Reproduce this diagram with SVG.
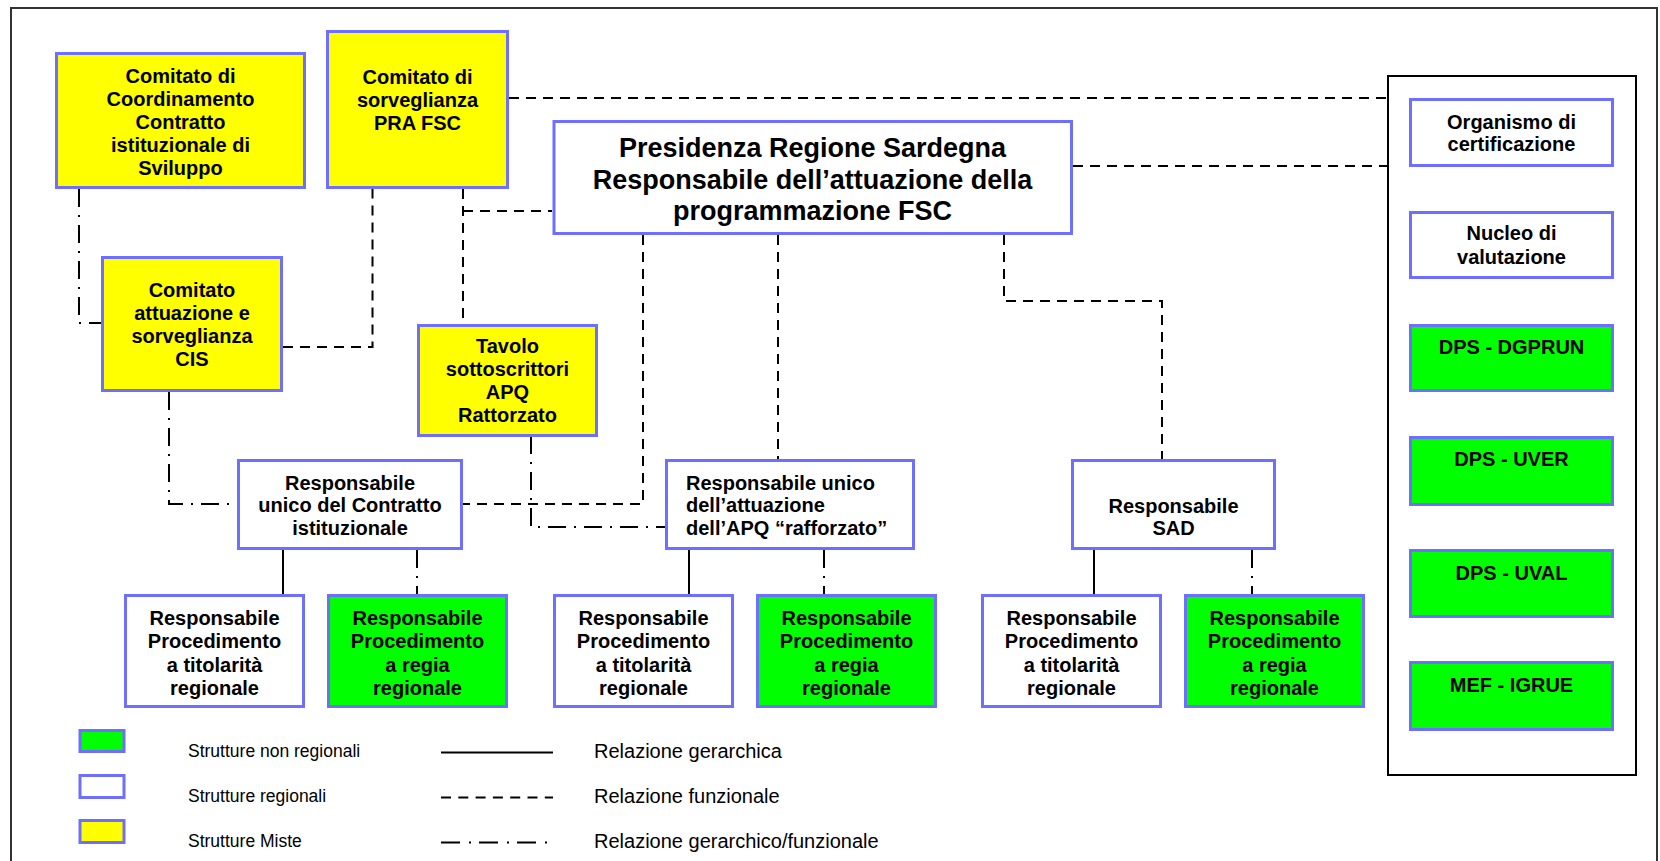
<svg xmlns="http://www.w3.org/2000/svg" width="1660" height="861" viewBox="0 0 1660 861">
<style>
.box{stroke:#6e6eff;stroke-width:3}
.y{fill:#ffff00}.w{fill:#ffffff}.g{fill:#00ff00}
.t{font-family:"Liberation Sans",Arial,sans-serif;font-weight:bold;font-size:20px;fill:#000;text-anchor:middle}
.tl{font-family:"Liberation Sans",Arial,sans-serif;font-weight:bold;font-size:20px;fill:#000}
.big{font-family:"Liberation Sans",Arial,sans-serif;font-weight:bold;font-size:27px;fill:#000;text-anchor:middle}
.leg{font-family:"Liberation Sans",Arial,sans-serif;font-size:17.5px;fill:#000}
.leg2{font-family:"Liberation Sans",Arial,sans-serif;font-size:20px;fill:#000}
.c{fill:none;stroke:#000;stroke-width:2}
.d{stroke-dasharray:10 7}
.dd{stroke-dasharray:18 8 2 8}
</style>
<rect x="0" y="0" width="1660" height="861" fill="#fff"/>
<rect x="11" y="8" width="1646" height="880" fill="none" stroke="#333" stroke-width="2"/>

<g id="connectors">
<path class="c d" d="M509 98H1387"/>
<path class="c d" d="M1073 166H1387"/>
<path class="c d" d="M463 189V324M463 211H552"/>
<path class="c d" d="M283 347H372.5V189"/>
<path class="c dd" d="M79 189V323H101"/>
<path class="c dd" d="M169 392V504H237"/>
<path class="c dd" d="M531 436V527H665"/>
<path class="c d" d="M643 235V504H463"/>
<path class="c d" d="M778 235V459"/>
<path class="c d" d="M1004 235V301H1162V459"/>
<path class="c" d="M283 550V594M689 550V594M1094 550V594"/>
<path class="c dd" d="M417 550V594M824 550V594M1252 550V594"/>
</g>

<g id="n-coordinamento">
<rect class="box y" x="56.5" y="53.5" width="248" height="134"/>
<text class="t" x="180.5" y="83">Comitato di</text>
<text class="t" x="180.5" y="106">Coordinamento</text>
<text class="t" x="180.5" y="129">Contratto</text>
<text class="t" x="180.5" y="152">istituzionale di</text>
<text class="t" x="180.5" y="175">Sviluppo</text>
</g>
<g id="n-sorveglianza">
<rect class="box y" x="327.5" y="31.5" width="180" height="156"/>
<text class="t" x="417.5" y="84">Comitato di</text>
<text class="t" x="417.5" y="107">sorveglianza</text>
<text class="t" x="417.5" y="130">PRA FSC</text>
</g>
<g id="n-cis">
<rect class="box y" x="102.5" y="257.5" width="179" height="133"/>
<text class="t" x="192" y="297">Comitato</text>
<text class="t" x="192" y="320">attuazione e</text>
<text class="t" x="192" y="343">sorveglianza</text>
<text class="t" x="192" y="366">CIS</text>
</g>
<g id="n-tavolo">
<rect class="box y" x="418.5" y="325.5" width="178" height="110"/>
<text class="t" x="507.5" y="353">Tavolo</text>
<text class="t" x="507.5" y="376">sottoscrittori</text>
<text class="t" x="507.5" y="399">APQ</text>
<text class="t" x="507.5" y="422">Rattorzato</text>
</g>
<g id="n-presidenza">
<rect class="box w" x="554" y="121.5" width="517.5" height="112"/>
<text class="big" x="812.5" y="157">Presidenza Regione Sardegna</text>
<text class="big" x="812.5" y="189">Responsabile dell’attuazione della</text>
<text class="big" x="812.5" y="220">programmazione FSC</text>
</g>
<g id="n-contratto">
<rect class="box w" x="238.5" y="460.5" width="223" height="88"/>
<text class="t" x="350" y="490">Responsabile</text>
<text class="t" x="350" y="512">unico del Contratto</text>
<text class="t" x="350" y="535">istituzionale</text>
</g>
<g id="n-apq">
<rect class="box w" x="666.5" y="460.5" width="247" height="88"/>
<text class="tl" x="686" y="490">Responsabile unico</text>
<text class="tl" x="686" y="512">dell’attuazione</text>
<text class="tl" x="686" y="535">dell’APQ “rafforzato”</text>
</g>
<g id="n-sad">
<rect class="box w" x="1072.5" y="460.5" width="202" height="88"/>
<text class="t" x="1173.5" y="513">Responsabile</text>
<text class="t" x="1173.5" y="535">SAD</text>
</g>

<g id="n-tit1">
<rect class="box w" x="125.5" y="595.5" width="178" height="111"/>
<text class="t" x="214.5" y="625">Responsabile</text>
<text class="t" x="214.5" y="648">Procedimento</text>
<text class="t" x="214.5" y="672">a titolarità</text>
<text class="t" x="214.5" y="695">regionale</text>
</g>
<g id="n-reg1">
<rect class="box g" x="328.5" y="595.5" width="178" height="111"/>
<text class="t" x="417.5" y="625">Responsabile</text>
<text class="t" x="417.5" y="648">Procedimento</text>
<text class="t" x="417.5" y="672">a regia</text>
<text class="t" x="417.5" y="695">regionale</text>
</g>
<g id="n-tit2">
<rect class="box w" x="554.5" y="595.5" width="178" height="111"/>
<text class="t" x="643.5" y="625">Responsabile</text>
<text class="t" x="643.5" y="648">Procedimento</text>
<text class="t" x="643.5" y="672">a titolarità</text>
<text class="t" x="643.5" y="695">regionale</text>
</g>
<g id="n-reg2">
<rect class="box g" x="757.5" y="595.5" width="178" height="111"/>
<text class="t" x="846.5" y="625">Responsabile</text>
<text class="t" x="846.5" y="648">Procedimento</text>
<text class="t" x="846.5" y="672">a regia</text>
<text class="t" x="846.5" y="695">regionale</text>
</g>
<g id="n-tit3">
<rect class="box w" x="982.5" y="595.5" width="178" height="111"/>
<text class="t" x="1071.5" y="625">Responsabile</text>
<text class="t" x="1071.5" y="648">Procedimento</text>
<text class="t" x="1071.5" y="672">a titolarità</text>
<text class="t" x="1071.5" y="695">regionale</text>
</g>
<g id="n-reg3">
<rect class="box g" x="1185.5" y="595.5" width="178" height="111"/>
<text class="t" x="1274.5" y="625">Responsabile</text>
<text class="t" x="1274.5" y="648">Procedimento</text>
<text class="t" x="1274.5" y="672">a regia</text>
<text class="t" x="1274.5" y="695">regionale</text>
</g>

<g id="panel">
<rect x="1388" y="76" width="248" height="699" fill="none" stroke="#000" stroke-width="2"/>
</g>
<g id="n-organismo">
<rect class="box w" x="1410.5" y="99.5" width="202" height="66"/>
<text class="t" x="1511.5" y="129">Organismo di</text>
<text class="t" x="1511.5" y="151">certificazione</text>
</g>
<g id="n-nucleo">
<rect class="box w" x="1410.5" y="212.5" width="202" height="65"/>
<text class="t" x="1511.5" y="240">Nucleo di</text>
<text class="t" x="1511.5" y="264">valutazione</text>
</g>
<g id="n-dgprun">
<rect class="box g" x="1410.5" y="325.5" width="202" height="65"/>
<text class="t" x="1511.5" y="354">DPS - DGPRUN</text>
</g>
<g id="n-uver">
<rect class="box g" x="1410.5" y="437.5" width="202" height="67"/>
<text class="t" x="1511.5" y="466">DPS - UVER</text>
</g>
<g id="n-uval">
<rect class="box g" x="1410.5" y="550.5" width="202" height="66"/>
<text class="t" x="1511.5" y="580">DPS - UVAL</text>
</g>
<g id="n-igrue">
<rect class="box g" x="1410.5" y="662.5" width="202" height="67"/>
<text class="t" x="1511.5" y="692">MEF - IGRUE</text>
</g>

<g id="legend">
<rect class="box g" x="80" y="730.5" width="44" height="21"/>
<rect class="box w" x="80" y="775.5" width="44" height="22"/>
<rect class="box y" x="80" y="820.5" width="44" height="22"/>
<text class="leg" x="188" y="757">Strutture non regionali</text>
<text class="leg" x="188" y="802">Strutture regionali</text>
<text class="leg" x="188" y="847">Strutture Miste</text>
<path class="c" d="M441 752.5H553"/>
<path class="c" d="M441 797.5H553" stroke-dasharray="10 7.3"/>
<path class="c" d="M441 842.5H553" stroke-dasharray="19 9 2 8"/>
<text class="leg2" x="594" y="758">Relazione gerarchica</text>
<text class="leg2" x="594" y="803">Relazione funzionale</text>
<text class="leg2" x="594" y="848">Relazione gerarchico/funzionale</text>
</g>
</svg>
